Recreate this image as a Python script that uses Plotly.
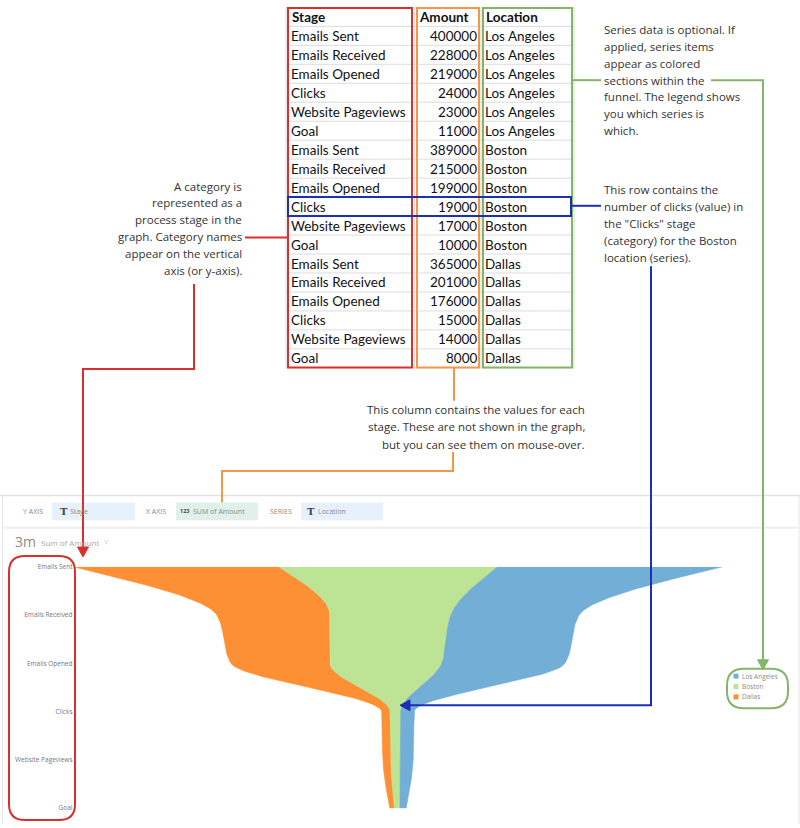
import numpy as np
import plotly.graph_objects as go

# ---------------- data ----------------
stages = ["Emails Sent", "Emails Received", "Emails Opened", "Clicks", "Website Pageviews", "Goal"]
locations = ["Los Angeles", "Boston", "Dallas"]
amount_la = [400000, 228000, 219000, 24000, 23000, 11000]
amount_boston = [389000, 215000, 199000, 19000, 17000, 10000]
amount_dallas = [365000, 201000, 176000, 15000, 14000, 8000]
table_header = ["Stage", "Amount", "Location"]

series_values = {"Los Angeles": amount_la, "Boston": amount_boston, "Dallas": amount_dallas}
colors = {"Los Angeles": "#72aed6", "Boston": "#bde494", "Dallas": "#fd8f34"}

W, H = 800, 828
RED, ORANGE, GREEN, BLUE = "#d9302c", "#f79646", "#84b467", "#1b30b4"
TXT = "#333333"


def monotone(vals, n=40):
    v = np.asarray(vals, dtype=float)
    N = len(v)
    s = np.diff(v)
    t = np.zeros(N)
    for i in range(1, N - 1):
        s0, s1 = s[i - 1], s[i]
        p = (s0 + s1) / 2
        t[i] = (np.sign(s0) + np.sign(s1)) * min(abs(s0), abs(s1), 0.5 * abs(p))
    t[0] = (3 * s[0] - t[1]) / 2
    t[-1] = (3 * s[-1] - t[-2]) / 2
    ys, xs = [], []
    for i in range(N - 1):
        u = np.linspace(0, 1, n, endpoint=(i == N - 2))
        h00 = 2 * u**3 - 3 * u**2 + 1
        h10 = u**3 - 2 * u**2 + u
        h01 = -2 * u**3 + 3 * u**2
        h11 = u**3 - u**2
        xs.append(h00 * v[i] + h10 * t[i] + h01 * v[i + 1] + h11 * t[i + 1])
        ys.append(i + u)
    return np.concatenate(xs), np.concatenate(ys)


# boundaries, left to right: Dallas, Boston, Los Angeles (centred stream)
order = ["Dallas", "Boston", "Los Angeles"]
totals = np.array(amount_la) + np.array(amount_boston) + np.array(amount_dallas)
bounds = [-totals / 2]
for name in order:
    bounds.append(bounds[-1] + np.array(series_values[name]))

fig = go.Figure()
curves = [monotone(b) for b in bounds]
for k, name in enumerate(order):
    xl, yy = curves[k]
    xr, _ = curves[k + 1]
    fig.add_trace(go.Scatter(
        x=np.concatenate([xl, xr[::-1]]), y=np.concatenate([yy, yy[::-1]]),
        fill="toself", fillcolor=colors[name], mode="lines",
        line=dict(width=0.6, color=colors[name]),
        name=name, showlegend=False, hoverinfo="name",
    ))

# invisible trace for the pixel overlay axes
fig.add_trace(go.Scatter(x=[0], y=[0], xaxis="x2", yaxis="y2", mode="markers",
                         marker=dict(opacity=0), hoverinfo="skip", showlegend=False))

X0, X1 = 73.5, 722.5
YT, YB = 568, 812
T0 = totals.max()

shapes = []
ann = []


def line(pts, color, width=2):
    d = "M" + " L".join(f"{x},{y}" for x, y in pts)
    shapes.append(dict(type="path", path=d, xref="x2", yref="y2",
                       line=dict(color=color, width=width), layer="above"))


def tri(pts, color):
    d = "M" + " L".join(f"{x},{y}" for x, y in pts) + " Z"
    shapes.append(dict(type="path", path=d, xref="x2", yref="y2", fillcolor=color,
                       line=dict(color=color, width=1), layer="above"))


def rect(x0, y0, x1, y1, color, width=2, fill=None, layer="above"):
    shapes.append(dict(type="rect", x0=x0, y0=y0, x1=x1, y1=y1, xref="x2", yref="y2",
                       line=dict(color=color, width=width),
                       fillcolor=fill if fill else "rgba(0,0,0,0)", layer=layer))


def rrect(x0, y0, x1, y1, r, color, width=2):
    d = (f"M{x0+r},{y0} L{x1-r},{y0} Q{x1},{y0} {x1},{y0+r} L{x1},{y1-r} Q{x1},{y1} {x1-r},{y1} "
         f"L{x0+r},{y1} Q{x0},{y1} {x0},{y1-r} L{x0},{y0+r} Q{x0},{y0} {x0+r},{y0} Z")
    shapes.append(dict(type="path", path=d, xref="x2", yref="y2",
                       line=dict(color=color, width=width), layer="above"))


def text(x, y, s, size=11.5, color=TXT, anchor="left", family="Open Sans", bold=False):
    if bold:
        s = f"<b>{s}</b>"
    ann.append(dict(x=x, y=y, xref="x2", yref="y2", text=s, showarrow=False,
                    xanchor=anchor, yanchor="middle", font=dict(size=size, color=color, family=family)))


# ---------------- table ----------------
TX0, TX1 = 286, 574
COLB1, COLB2 = 414.5, 481
ROW0, RH = 12, 19.18
nrows = len(stages) * len(locations)
for r in range(nrows + 1):
    yb = ROW0 + RH / 2 + r * RH
    shapes.append(dict(type="line", x0=TX0, x1=TX1, y0=yb, y1=yb, xref="x2", yref="y2",
                       line=dict(color="#dcdcdc", width=1), layer="below"))
for xv in [TX0, COLB1, COLB2, TX1]:
    shapes.append(dict(type="line", x0=xv, x1=xv, y0=2, y1=ROW0 + RH / 2 + nrows * RH,
                       xref="x2", yref="y2", line=dict(color="#dcdcdc", width=1), layer="below"))

TF = "Lato"
text(290, ROW0, table_header[0], size=13.5, color="#111", family=TF, bold=True)
text(417, ROW0, table_header[1], size=13.5, color="#111", family=TF, bold=True)
text(484, ROW0, table_header[2], size=13.5, color="#111", family=TF, bold=True)
r = 0
for loc in locations:
    for i, st in enumerate(stages):
        yy = ROW0 + RH * (r + 1)
        text(289, yy, st, size=13.5, color="#111", family=TF)
        text(479, yy, str(series_values[loc][i]), size=13.5, color="#111", family=TF, anchor="right")
        text(483, yy, loc, size=13.5, color="#111", family=TF)
        r += 1

rect(288, 3, 412, 366.5, RED, 2)
rect(417, 3, 479, 366.5, ORANGE, 2)
rect(483, 3, 572, 366.5, GREEN, 2)
clicks_row = locations.index("Boston") * len(stages) + stages.index("Clicks") + 1
cy = ROW0 + RH * clicks_row
rect(288, cy - 9.6, 571, cy + 9.6, BLUE, 2)

# ---------------- explanatory texts ----------------
right1 = ["Series data is optional. If", "applied, series items", "appear as colored",
          "sections within the", "funnel. The legend shows", "you which series is", "which."]
for i, s in enumerate(right1):
    text(602, 25 + 17 * i, s)
right2 = ["This row contains the", "number of clicks (value) in", "the \"Clicks\" stage",
          "(category) for the Boston", "location (series)."]
for i, s in enumerate(right2):
    text(602, 187 + 17 * i, s)
left1 = ["A category is", "represented as a", "process stage in the", "graph. Category names",
         "appear on the vertical", "axis (or y-axis)."]
for i, s in enumerate(left1):
    text(244, 183 + 17.1 * i, s, anchor="right")
mid1 = ["This column contains the values for each", "stage. These are not shown in the graph,",
        "but you can see them on mouse-over."]
for i, s in enumerate(mid1):
    text(587, 409 + 17.5 * i, s, anchor="right")

# ---------------- connector lines ----------------
line([(245, 235), (288, 235)], RED)
line([(194, 282), (194, 368), (83, 368), (83, 550)], RED)
tri([(77.5, 548), (88.5, 548), (83, 558)], RED)
rrect(9, 557, 75, 824, 16, RED)

line([(454, 367), (454, 400)], ORANGE)
line([(453, 452), (453, 471), (222, 471), (222, 503)], ORANGE)

line([(572, 76), (601, 76)], GREEN)
line([(711, 76), (763, 76), (763, 663)], GREEN)
tri([(757.5, 662), (768.5, 662), (763, 672)], GREEN)
rrect(727, 671, 788, 711, 17, GREEN)

line([(571, 203), (601, 203)], BLUE)
line([(651, 264), (651, 708), (408, 708)], BLUE)
tri([(410, 702.5), (410, 713.5), (400, 708)], BLUE)

# ---------------- chart panel chrome ----------------
shapes.append(dict(type="line", x0=0, x1=800, y0=496, y1=496, xref="x2", yref="y2",
                   line=dict(color="#e2e2e2", width=1.5), layer="below"))
shapes.append(dict(type="line", x0=2.5, x1=2.5, y0=496, y1=828, xref="x2", yref="y2",
                   line=dict(color="#e6e6e6", width=1), layer="below"))
shapes.append(dict(type="line", x0=799, x1=799, y0=496, y1=828, xref="x2", yref="y2",
                   line=dict(color="#e6e6e6", width=1), layer="below"))
shapes.append(dict(type="line", x0=3, x1=800, y0=528.5, y1=528.5, xref="x2", yref="y2",
                   line=dict(color="#efefef", width=2), layer="below"))
rect(52, 503, 135, 521, "rgba(0,0,0,0)", 0, fill="#e7f1fb", layer="below")
rect(176, 503, 258, 521, "rgba(0,0,0,0)", 0, fill="#dff1e9", layer="below")
rect(301, 503, 383, 521, "rgba(0,0,0,0)", 0, fill="#e7f1fb", layer="below")
GR = "#8a8a8a"
text(21, 512, "Y AXIS", size=7, color=GR)
text(58, 512, "<b>T</b>", size=10, color="#3e4656", family="DejaVu Serif")
text(68, 512, "Stage", size=7, color=GR)
text(144, 512, "X AXIS", size=7, color=GR)
text(178, 511.5, "<b>123</b>", size=5.5, color="#3e4656")
text(191, 512, "SUM of Amount", size=7, color=GR)
text(268, 512, "SERIES", size=7, color=GR)
text(305, 512, "<b>T</b>", size=10, color="#3e4656", family="DejaVu Serif")
text(316, 512, "Location", size=7, color=GR)
text(13, 542, "3m", size=14, color="#8c8c8c")
text(39, 543, "Sum of Amount", size=8, color="#a8a8a8")
text(102, 542, "\u02c5", size=8, color="#a8a8a8")

# ---------------- legend (manual) ----------------
for i, loc in enumerate(locations):
    ly = 678.5 + 10.5 * i
    rect(733.5, ly - 2.5, 738.5, ly + 2.5, colors[loc], 0, fill=colors[loc])
    text(740, ly, loc, size=6.5, color="#8a8a8a")

fig.update_layout(
    width=W, height=H, margin=dict(l=0, r=0, t=0, b=0),
    paper_bgcolor="white", plot_bgcolor="rgba(0,0,0,0)",
    showlegend=False, shapes=shapes, annotations=ann,
    xaxis=dict(domain=[X0 / W, X1 / W], range=[-T0 / 2, T0 / 2], visible=False, fixedrange=True),
    yaxis=dict(domain=[1 - YB / H, 1 - YT / H], range=[len(stages) - 1, 0],
               tickmode="array", tickvals=list(range(len(stages))), ticktext=stages,
               showgrid=False, zeroline=False, showline=False, ticks="",
               tickfont=dict(size=6.5, color="#777", family="Open Sans"), fixedrange=True),
    xaxis2=dict(domain=[0, 1], range=[0, W], visible=False, anchor="y2", fixedrange=True),
    yaxis2=dict(domain=[0, 1], range=[H, 0], visible=False, anchor="x2", fixedrange=True),
)

fig.write_html("out.html", config={"displayModeBar": False},
               post_script="document.body.style.margin='0';document.body.style.overflow='hidden';")
